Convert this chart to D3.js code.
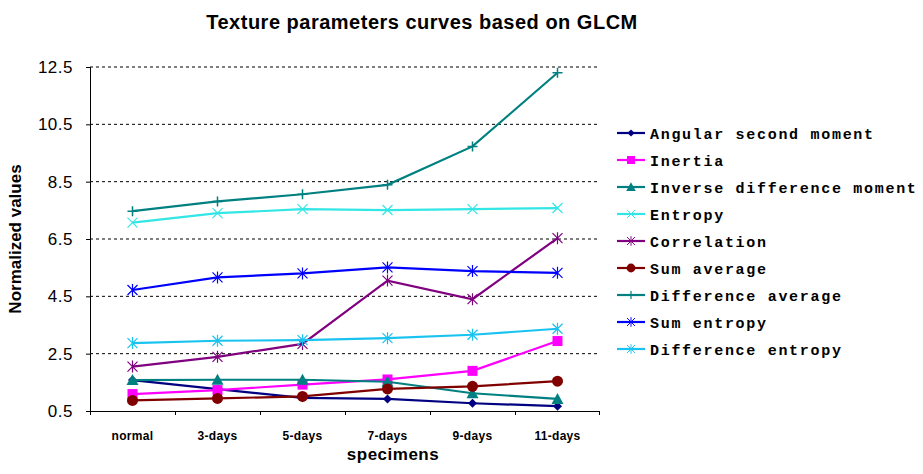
<!DOCTYPE html>
<html>
<head>
<meta charset="utf-8">
<script src="https://cdn.jsdelivr.net/npm/d3@7"></script>
<style>
  body { margin: 0; background: #fff; }
  svg { display: block; }
</style>
</head>
<body>
<svg id="chart" width="923" height="474"></svg>
<script>
// categories and series
const categories = ["normal", "3-days", "5-days", "7-days", "9-days", "11-days"];
const yTicks = [0.5, 2.5, 4.5, 6.5, 8.5, 10.5, 12.5];

const angularSecondMoment = [1.58, 1.26, 0.96, 0.92, 0.77, 0.67];
const inertia = [1.09, 1.23, 1.42, 1.60, 1.90, 2.94];
const inverseDifferenceMoment = [1.58, 1.59, 1.59, 1.52, 1.12, 0.92];
const entropy = [7.07, 7.40, 7.54, 7.51, 7.54, 7.58];
const correlation = [2.05, 2.39, 2.84, 5.05, 4.40, 6.53];
const sumAverage = [0.87, 0.94, 1.01, 1.27, 1.36, 1.54];
const differenceAverage = [7.47, 7.81, 8.06, 8.39, 9.73, 12.30];
const sumEntropy = [4.72, 5.16, 5.30, 5.51, 5.38, 5.32];
const differenceEntropy = [2.87, 2.95, 2.97, 3.04, 3.16, 3.37];

const series = [
  { name: "Angular second moment", values: angularSecondMoment, color: "#000080", marker: "diamond" },
  { name: "Inertia", values: inertia, color: "#ff00ff", marker: "square" },
  { name: "Inverse difference moment", values: inverseDifferenceMoment, color: "#008080", marker: "triangle" },
  { name: "Entropy", values: entropy, color: "#33e6e6", marker: "x" },
  { name: "Correlation", values: correlation, color: "#800080", marker: "star" },
  { name: "Sum average", values: sumAverage, color: "#800000", marker: "circle" },
  { name: "Difference average", values: differenceAverage, color: "#008080", marker: "plus" },
  { name: "Sum entropy", values: sumEntropy, color: "#0000ff", marker: "star" },
  { name: "Difference entropy", values: differenceEntropy, color: "#19c3f0", marker: "star" }
];

const margin = { top: 67, right: 323, bottom: 63, left: 90 };
const width = 923, height = 474;
const innerW = width - margin.left - margin.right;
const innerH = height - margin.top - margin.bottom;

const svg = d3.select("#chart");
const chart = svg.append("g").attr("transform", `translate(${margin.left},${margin.top})`);

const x = d3.scalePoint().domain(categories).range([0, innerW]).padding(0.5);
const xBand = d3.scaleBand().domain(categories).range([0, innerW]);
const y = d3.scaleLinear().domain([0.5, 12.5]).range([innerH, 0]);

// dashed gridlines
chart.selectAll(".grid")
  .data(yTicks.slice(1))
  .enter()
  .append("line")
  .attr("x1", 0)
  .attr("x2", innerW)
  .attr("y1", d => y(d))
  .attr("y2", d => y(d))
  .attr("stroke", "#000")
  .attr("stroke-width", 1)
  .attr("stroke-dasharray", "3 3");

// y axis
const yAxis = d3.axisLeft(y).tickValues(yTicks).tickSize(4).tickFormat(d3.format(".1f"));
const yG = chart.append("g").call(yAxis);
yG.select(".domain").attr("d", `M-4,0.5H0.5V${innerH}`);
yG.selectAll("text")
  .attr("x", -17)
  .style("font-family", "Liberation Sans, Arial, sans-serif")
  .style("font-size", "17px")
  .style("letter-spacing", "0.5px")
  .attr("fill", "#000");

// x axis with ticks at band edges
const xG = chart.append("g").attr("transform", `translate(0,${innerH})`);
xG.append("line")
  .attr("x1", 0).attr("x2", innerW)
  .attr("y1", 0.5).attr("y2", 0.5)
  .attr("stroke", "#000");
xG.selectAll(".xtick")
  .data(categories)
  .enter()
  .append("line")
  .attr("x1", d => xBand(d) + 0.5)
  .attr("x2", d => xBand(d) + 0.5)
  .attr("y1", 0)
  .attr("y2", 4)
  .attr("stroke", "#000");
xG.append("line")
  .attr("x1", innerW - 0.5).attr("x2", innerW - 0.5)
  .attr("y1", 0).attr("y2", 4)
  .attr("stroke", "#000");
xG.selectAll(".xlabel")
  .data(categories)
  .enter()
  .append("text")
  .attr("x", d => x(d))
  .attr("y", 29)
  .attr("text-anchor", "middle")
  .style("font-family", "Liberation Sans, Arial, sans-serif")
  .style("font-size", "12px")
  .style("font-weight", "bold")
  .style("letter-spacing", "0.3px")
  .text(d => d);

// marker drawing
function drawMarker(g, type, color) {
  if (type === "diamond") {
    g.append("path").attr("d", "M0,-4.5L4.5,0L0,4.5L-4.5,0Z").attr("fill", color);
  } else if (type === "square") {
    g.append("rect").attr("x", -5).attr("y", -5).attr("width", 10).attr("height", 10).attr("fill", color);
  } else if (type === "triangle") {
    g.append("path").attr("d", "M0,-6L6,5L-6,5Z").attr("fill", color);
  } else if (type === "circle") {
    g.append("circle").attr("r", 5.5).attr("fill", color);
  } else if (type === "x") {
    g.append("path").attr("d", "M-5,-5L5,5M-5,5L5,-5").attr("stroke", color).attr("stroke-width", 1.2);
  } else if (type === "star") {
    g.append("path").attr("d", "M-5,-5L5,5M-5,5L5,-5M0,-6V6").attr("stroke", color).attr("stroke-width", 1.2);
  } else if (type === "plus") {
    g.append("path").attr("d", "M-5,0H5M0,-5V5").attr("stroke", color).attr("stroke-width", 1.5);
  }
}

const line = d3.line()
  .x((d, i) => x(categories[i]))
  .y(d => y(d));

series.forEach(s => {
  const g = chart.append("g");
  g.append("path")
    .datum(s.values)
    .attr("d", line)
    .attr("fill", "none")
    .attr("stroke", s.color)
    .attr("stroke-width", 2.2);
  s.values.forEach((v, i) => {
    const m = g.append("g").attr("transform", `translate(${x(categories[i])},${y(v)})`);
    drawMarker(m, s.marker, s.color);
  });
});

// legend
const legend = svg.append("g").attr("transform", "translate(617,133)");
series.forEach((s, i) => {
  const row = legend.append("g").attr("transform", `translate(0,${i * 27})`);
  row.append("line")
    .attr("x1", 0).attr("x2", 28)
    .attr("y1", 0).attr("y2", 0)
    .attr("stroke", s.color)
    .attr("stroke-width", 2.2);
  const m = row.append("g");
  drawMarker(m, s.marker, s.color);
  m.attr("transform", "translate(14,0) scale(0.8)");
  row.append("text")
    .attr("x", 33)
    .attr("y", 5.5)
    .style("font-family", "Liberation Mono, DejaVu Sans Mono, monospace")
    .style("font-size", "15px")
    .style("font-weight", "bold")
    .style("letter-spacing", "1.7px")
    .text(s.name);
});

// title
svg.append("text")
  .attr("x", 422)
  .attr("y", 29)
  .attr("text-anchor", "middle")
  .style("font-family", "Liberation Sans, Arial, sans-serif")
  .style("font-size", "20px")
  .style("font-weight", "bold")
  .style("letter-spacing", "0.5px")
  .text("Texture parameters curves based on GLCM");

// axis titles
svg.append("text")
  .attr("transform", `translate(21,${margin.top + innerH / 2}) rotate(-90)`)
  .attr("text-anchor", "middle")
  .style("font-family", "Liberation Sans, Arial, sans-serif")
  .style("font-size", "17px")
  .style("font-weight", "bold")
  .text("Normalized values");

svg.append("text")
  .attr("x", 393)
  .attr("y", 460)
  .attr("text-anchor", "middle")
  .style("font-family", "Liberation Sans, Arial, sans-serif")
  .style("font-size", "17px")
  .style("font-weight", "bold")
  .style("letter-spacing", "0.5px")
  .text("specimens");
</script>
</body>
</html>
